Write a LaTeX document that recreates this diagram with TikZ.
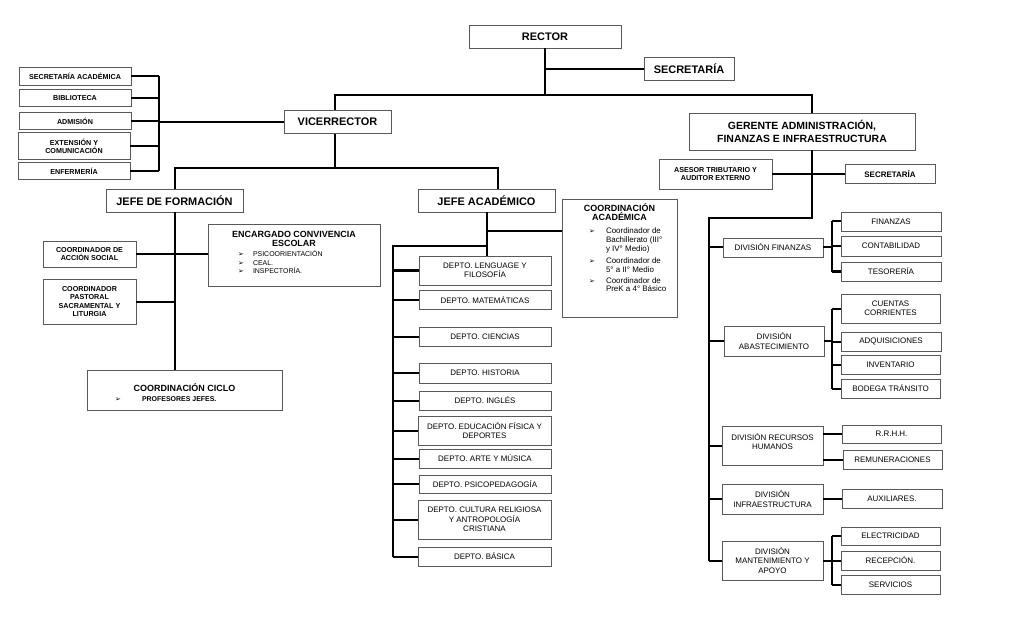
\documentclass[tikz,border=0pt]{standalone}
\usepackage{fontspec}
\setmainfont{Liberation Sans}
\newfontfamily\dejavu{DejaVu Sans}
\usepackage{tikz}

\newcommand{\bul}{{\dejavu\fontsize{7}{7}\selectfont ➢}}
\newcommand{\bline}[3]{\hspace*{#1bp}\makebox[#2bp][l]{\bul}#3}

\tikzset{
  frame/.style={draw=black!65, line width=0.9bp, fill=white, inner sep=2bp},
  box/.style={frame, align=center, inner sep=1bp},
  wh/.style 2 args={minimum width=#1bp, minimum height=#2bp},
  link/.style={line width=2bp, black},
  tbig/.style={font=\fontsize{11}{13}\selectfont\bfseries},
  tbold/.style={font=\fontsize{8}{9.4}\selectfont\bfseries},
  tsmall/.style={font=\fontsize{7.2}{8.3}\selectfont\bfseries},
  treg/.style={font=\fontsize{8}{9.4}\selectfont},
}

\begin{document}
\begin{tikzpicture}[x=1bp, y=-1bp]
\path[fill=white] (0,0) rectangle (1024,622);
\useasboundingbox (0,0) rectangle (1024,622);

% top
\node[box, wh={152}{23}, tbig] (rector) at (545,36.5) {RECTOR};
\node[box, wh={90}{23}, tbig] (secr) at (689,69) {SECRETARÍA};
\node[box, wh={107}{23}, tbig] (vice) at (337.5,122) {VICERRECTOR};
\node[box, wh={226}{37}, font=\fontsize{10.5}{12.7}\selectfont\bfseries] (ger) at (802,131.5) {GERENTE ADMINISTRACIÓN,\\FINANZAS E INFRAESTRUCTURA};

% vicerrector staff
\node[box, wh={112}{18}, tsmall] (sacad) at (75,76) {SECRETARÍA ACADÉMICA};
\node[box, wh={112}{17}, tsmall] (bibl) at (75,98) {BIBLIOTECA};
\node[box, wh={112}{17}, tsmall] (admis) at (75,121) {ADMISIÓN};
\node[box, wh={112}{27}, tsmall] (exten) at (74,146) {EXTENSIÓN Y\\COMUNICACIÓN};
\node[box, wh={112}{17}, tsmall] (enfer) at (74,171) {ENFERMERÍA};

% jefes
\node[box, wh={137}{23}, tbig] (jform) at (174.5,200.5) {JEFE DE FORMACIÓN};
\node[box, wh={137}{23}, tbig] (jacad) at (486.5,200.5) {JEFE ACADÉMICO};

% formacion
\node[box, wh={93}{26}, tsmall] (casoc) at (89.5,254) {COORDINADOR DE\\ACCIÓN SOCIAL};
\node[box, wh={93}{45}, tsmall] (cpast) at (89.5,301.5) {COORDINADOR\\PASTORAL\\SACRAMENTAL Y\\LITURGIA};
\node[frame] (encarg) at (294,255) {\parbox[t][58bp][t]{168bp}{%
  \vspace*{5bp}\centering\fontsize{9}{9.2}\selectfont\bfseries
  ENCARGADO CONVIVENCIA\\ESCOLAR\par
  \vspace{2bp}\raggedright\mdseries\fontsize{7}{8.5}\selectfont
  \bline{28}{15}{PSICOORIENTACIÓN}\\
  \bline{28}{15}{CEAL.}\\
  \bline{28}{15}{INSPECTORÍA.}}};
\node[frame] (cciclo) at (184.5,390) {\parbox[t][36bp][t]{191bp}{%
  \vspace*{12bp}\centering\fontsize{9}{10.3}\selectfont\bfseries
  COORDINACIÓN CICLO\par
  \raggedright\fontsize{7}{10}\selectfont
  \bline{26}{27}{PROFESORES JEFES.}}};

% academico
\node[frame] (cacad) at (619.5,258) {\parbox[t][114bp][t]{111bp}{%
  \vspace*{2.5bp}\centering\fontsize{9}{9.3}\selectfont\bfseries
  COORDINACIÓN\\ACADÉMICA\par
  \vspace{4bp}\raggedright\mdseries\fontsize{8}{9}\selectfont
  \bline{25}{17}{Coordinador de}\\
  \hspace*{42bp}Bachillerato (III°\\
  \hspace*{42bp}y IV° Medio)\\[2.5bp]
  \bline{25}{17}{Coordinador de}\\
  \hspace*{42bp}5° a II° Medio\\[2bp]
  \bline{25}{17}{Coordinador de}\\
  \hspace*{42bp}PreK a 4° Básico}};
\node[box, wh={132}{29}, treg] (dlen) at (485,270.5) {DEPTO. LENGUAGE Y\\FILOSOFÍA};
\node[box, wh={132}{19}, treg] (dmat) at (485,300) {DEPTO. MATEMÁTICAS};
\node[box, wh={132}{19}, treg] (dcie) at (485,336.5) {DEPTO. CIENCIAS};
\node[box, wh={132}{20}, treg] (dhis) at (485,373) {DEPTO. HISTORIA};
\node[box, wh={132}{19}, treg] (ding) at (485,400.5) {DEPTO. INGLÉS};
\node[box, wh={133}{29}, treg] (dedu) at (484.5,430.5) {DEPTO. EDUCACIÓN FÍSICA Y\\DEPORTES};
\node[box, wh={132}{19}, treg] (dart) at (485,458.5) {DEPTO. ARTE Y MÚSICA};
\node[box, wh={132}{18}, treg] (dpsi) at (485,484) {DEPTO. PSICOPEDAGOGÍA};
\node[box, wh={133}{39}, treg] (dcul) at (484.5,519.5) {DEPTO. CULTURA RELIGIOSA\\Y ANTROPOLOGÍA\\CRISTIANA};
\node[box, wh={133}{19}, treg] (dbas) at (484.5,556.5) {DEPTO. BÁSICA};

% gerencia
\node[box, wh={113}{30}, tsmall] (ases) at (715.5,174) {ASESOR TRIBUTARIO Y\\AUDITOR EXTERNO};
\node[box, wh={90}{19}, tbold] (secr2) at (890,174) {SECRETARÍA};
\node[box, wh={100}{19}, treg] (dfin) at (773,247.5) {DIVISIÓN FINANZAS};
\node[box, wh={100}{30}, treg] (dabas) at (774,341) {DIVISIÓN\\ABASTECIMIENTO};
\node[box, wh={101}{39}, treg] (drrhh) at (772.5,445.5) {DIVISIÓN RECURSOS\\HUMANOS\\[-1bp]\mbox{}};
\node[box, wh={101}{30}, treg] (dinfra) at (772.5,499) {DIVISIÓN\\INFRAESTRUCTURA};
\node[box, wh={101}{39}, treg] (dmant) at (772.5,560.5) {DIVISIÓN\\MANTENIMIENTO Y\\APOYO};

\node[box, wh={100}{19}, treg] (sfin) at (891,221.5) {FINANZAS};
\node[box, wh={100}{20}, treg] (scont) at (891,246) {CONTABILIDAD};
\node[box, wh={100}{19}, treg] (stes) at (891,271.5) {TESORERÍA};
\node[box, wh={99}{29}, treg] (scta) at (890.5,308.5) {CUENTAS\\CORRIENTES};
\node[box, wh={100}{19}, treg] (sadq) at (891,341.5) {ADQUISICIONES};
\node[box, wh={99}{19}, treg] (sinv) at (890.5,364.5) {INVENTARIO};
\node[box, wh={99}{19}, treg] (sbod) at (890.5,388.5) {BODEGA TRÁNSITO};
\node[box, wh={99}{18}, treg] (srrhh) at (891.5,434) {R.R.H.H.};
\node[box, wh={99}{19}, treg] (srem) at (892.5,459.5) {REMUNERACIONES};
\node[box, wh={100}{19}, treg] (saux) at (892,498.5) {AUXILIARES.};
\node[box, wh={99}{18}, treg] (selec) at (890.5,536) {ELECTRICIDAD};
\node[box, wh={99}{19}, treg] (srec) at (890.5,560.5) {RECEPCIÓN.};
\node[box, wh={99}{19}, treg] (sserv) at (890.5,584.5) {SERVICIOS};

% lines
\coordinate (hl) at (335,95);
\coordinate (hr) at (812,95);
\draw[link] (rector.south) -- (rector.south |- hl);
\draw[link] (rector.south |- secr.west) -- (secr.west);
\draw[link] (hl |- vice.north) -- (hl) -- (hr) -- (hr |- ger.north);

\coordinate (sbus) at (159,0);
\draw[link] (sbus |- sacad.east) -- (sbus |- enfer.east);
\foreach \s in {sacad,bibl,admis,exten,enfer}
  \draw[link] (\s.east) -- (sbus |- \s.east);
\draw[link] (vice.west) -- (sbus |- vice.west);

\coordinate (vb) at (335,168);
\draw[link] (vb |- vice.south) -- (vb);
\draw[link] (jform.north) |- (vb) -| ([xshift=11bp]jacad.north);

\draw[link] (jform.south) -- (jform.south |- cciclo.north);
\draw[link] (casoc.east) -- (casoc.east -| encarg.west);
\draw[link] (cpast.east) -- (cpast.east -| jform.south);

\coordinate (cak) at (486.5,231);
\draw[link] (jacad.south) -- (jacad.south |- dlen.north);
\draw[link] (cak) -- (cak -| cacad.west);
\coordinate (abus) at (393,246);
\draw[link] (abus -| jacad.south) -- (abus) -- (abus |- dbas.west);
\foreach \d in {dlen,dmat,dcie,dhis,ding,dedu,dart,dpsi,dcul,dbas}
  \draw[link] (abus |- \d.west) -- (\d.west);

\coordinate (gb) at (812,218);
\coordinate (rbus) at (709,218);
\draw[link] (gb |- ger.south) -- (gb) -- (rbus) -- (rbus |- dmant.west);
\draw[link] (ases.east) -- (secr2.west);
\foreach \d in {dfin,dabas,drrhh,dinfra,dmant}
  \draw[link] (rbus |- \d.west) -- (\d.west);

\coordinate (sb) at (832,0);
\draw[link] (sb |- sfin.west) -- (sb |- stes.west);
\foreach \s in {sfin,scont,stes}
  \draw[link] (sb |- \s.west) -- (\s.west);
\draw[link] (dfin.east) -- (dfin.east -| sb);
\draw[link] (sb |- scta.west) -- (sb |- sbod.west);
\foreach \s in {scta,sadq,sinv,sbod}
  \draw[link] (sb |- \s.west) -- (\s.west);
\draw[link] (dabas.east) -- (dabas.east -| sb);
\draw[link] (srrhh.west -| drrhh.east) -- (srrhh.west);
\draw[link] (srem.west -| drrhh.east) -- (srem.west);
\draw[link] (dinfra.east) -- (dinfra.east -| saux.west);
\draw[link] (sb |- selec.west) -- (sb |- sserv.west);
\foreach \s in {selec,srec,sserv}
  \draw[link] (sb |- \s.west) -- (\s.west);
\draw[link] (dmant.east) -- (dmant.east -| sb);
\end{tikzpicture}
\end{document}
